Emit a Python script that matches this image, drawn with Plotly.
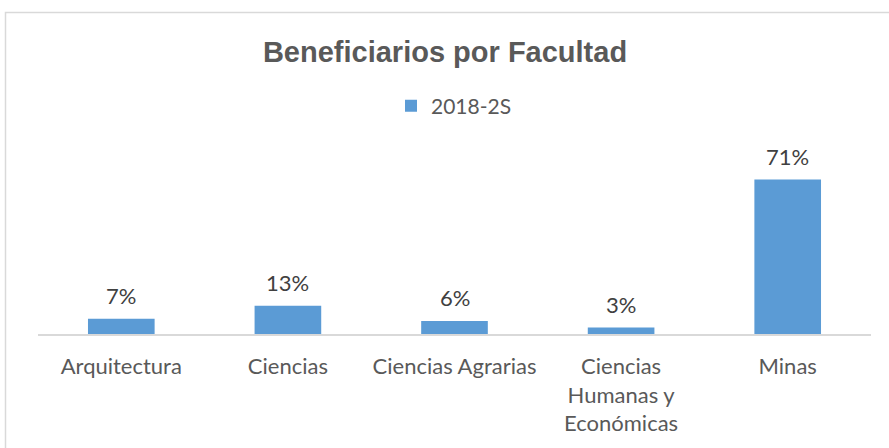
import plotly.graph_objects as go

categories = ["Arquitectura", "Ciencias", "Ciencias Agrarias", "Ciencias<br>Humanas y<br>Económicas", "Minas"]
values = [7, 13, 6, 3, 71]
labels = ["7%", "13%", "6%", "3%", "71%"]
series_name = "2018-2S"

W, H = 889, 448
ml, mr, mt, mb = 38, 18, 160, 114
pw, ph = W - ml - mr, H - mt - mb

def px_x(x):
    return (x - ml) / pw

def px_y(y):
    return (H - mb - y) / ph

fig = go.Figure()
fig.add_trace(go.Bar(
    x=categories, y=values, name=series_name,
    marker=dict(color="#5B9BD5", line=dict(width=0)),
    width=0.4, showlegend=True,
))

for c, v, t in zip(categories, values, labels):
    fig.add_annotation(x=c, y=v, text=t, showarrow=False, yshift=23,
                       font=dict(family="Lato", size=22, color="#404040"))

fig.add_shape(type="rect", xref="paper", yref="paper",
              x0=px_x(5.5), x1=px_x(895), y0=px_y(12.5), y1=px_y(460),
              line=dict(color="#D9D9D9", width=1.5), fillcolor="rgba(0,0,0,0)", layer="below")

fig.update_layout(
    width=W, height=H,
    margin=dict(l=ml, r=mr, t=mt, b=mb),
    paper_bgcolor="white", plot_bgcolor="white",
    title=dict(text="<b>Beneficiarios por Facultad</b>", x=px_x(455), xanchor="center",
               y=1 - 51.5 / H, yanchor="middle",
               font=dict(family="Liberation Sans", size=29, color="#595959")),
    legend=dict(orientation="h", x=px_x(391), xanchor="left", y=px_y(106), yanchor="middle",
                font=dict(family="Lato", size=21, color="#595959"),
                itemsizing="constant", bgcolor="rgba(0,0,0,0)"),
    xaxis=dict(showline=True, linecolor="#D9D9D9", linewidth=1.5, ticks="",
               ticklabelstandoff=12, showgrid=False,
               tickfont=dict(family="Lato", size=22, color="#595959")),
    yaxis=dict(range=[0, 80], visible=False, showgrid=False, zeroline=False),
    bargap=0.6,
)

fig.write_html("out.html", config={"displayModeBar": False},
               post_script="document.body.style.margin='0';document.body.style.padding='0';")
